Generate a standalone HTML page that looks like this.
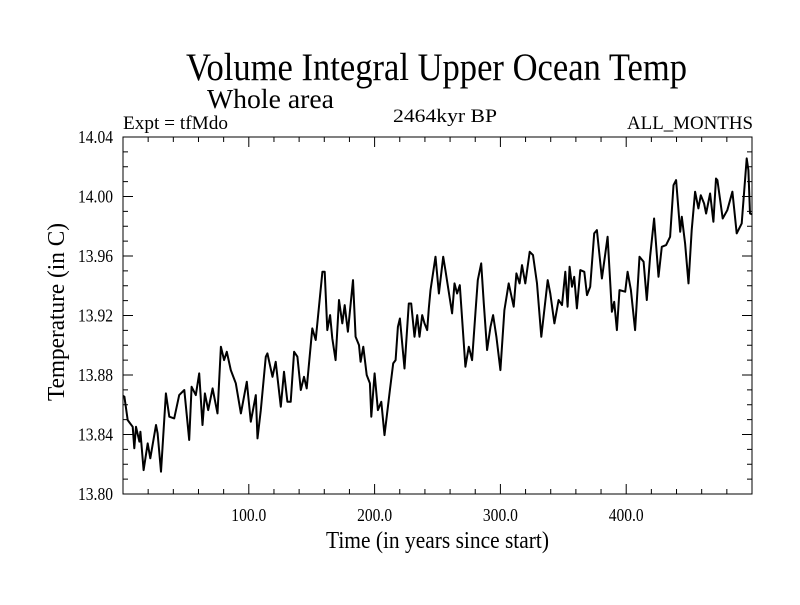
<!DOCTYPE html>
<html><head><meta charset="utf-8"><style>
html,body{margin:0;padding:0;background:#fff}
svg text{font-family:"Liberation Serif",serif;fill:#000}
</style></head><body>
<svg id="chart" width="800" height="600" viewBox="0 0 800 600" xmlns="http://www.w3.org/2000/svg">
<rect x="0" y="0" width="800" height="600" fill="#fff"/>
<text x="186" y="80" font-size="39" textLength="501" lengthAdjust="spacingAndGlyphs">Volume Integral Upper Ocean Temp</text>
<text x="207" y="108" font-size="27" textLength="127" lengthAdjust="spacingAndGlyphs">Whole area</text>
<text x="123" y="129" font-size="19" textLength="105" lengthAdjust="spacingAndGlyphs">Expt = tfMdo</text>
<text x="393" y="122" font-size="19" textLength="104" lengthAdjust="spacingAndGlyphs">2464kyr BP</text>
<text x="627" y="129" font-size="19" textLength="126" lengthAdjust="spacingAndGlyphs">ALL_MONTHS</text>
<text x="326" y="548" font-size="24" textLength="223" lengthAdjust="spacingAndGlyphs">Time (in years since start)</text>
<text transform="translate(64,401) rotate(-90)" font-size="24" textLength="178" lengthAdjust="spacingAndGlyphs">Temperature (in C)</text>
<g id="axes"></g>
<g id="series"></g>
</svg>
<script>
const years=[0,1.1,3.7,7.7,9.0,10.3,13.0,13.8,16.4,19.6,21.7,26.2,27.5,30.2,34.1,36.8,40.7,44.7,48.7,52.6,54.5,57.9,60.6,63.2,65.1,67.7,71.2,75.1,77.8,80.4,82.5,85.7,89.7,93.7,98.4,101.6,105.6,106.9,109.5,113.5,114.8,118.8,121.4,125.4,128.0,130.7,133.3,136.0,138.6,141.3,143.9,146.0,150.5,153.2,158.5,160.3,162.4,164.6,166.4,169.0,171.7,174.3,176.2,178.8,182.8,184.9,187.6,188.9,191.0,193.7,196.3,197.4,200.0,202.6,205.3,207.9,210.1,212.2,214.8,216.7,218.5,220.1,223.8,227.2,229.1,231.7,233.9,235.7,237.8,239.7,241.8,243.1,244.4,248.4,251.1,254.5,256.3,261.6,263.5,265.6,267.7,272.2,274.9,277.5,280.2,282.0,284.7,286.8,289.4,292.1,294.2,296.8,300.0,303.2,306.6,310.6,312.7,315.3,317.2,319.8,323.3,325.9,329.1,332.5,337.6,339.7,342.9,346.3,349.0,351.6,353.4,355.0,356.9,358.7,360.8,363.5,366.7,368.8,371.4,374.6,376.7,380.7,385.2,388.6,390.5,392.6,394.7,399.2,401.1,403.7,407.1,410.6,413.8,416.4,419.0,422.2,425.7,428.3,431.7,434.9,437.6,439.7,442.9,444.2,446.8,449.5,452.1,454.8,457.4,459.3,461.9,463.5,466.7,469.3,471.4,472.5,476.7,480.4,484.4,487.8,491.8,495.8,497.1,498.4,500];
const temps=[13.866,13.8654,13.8497,13.8452,13.8307,13.8452,13.8352,13.8419,13.8161,13.8340,13.8240,13.8464,13.8408,13.8150,13.8676,13.8520,13.8508,13.8665,13.8699,13.8363,13.8721,13.8665,13.8811,13.8464,13.8676,13.8564,13.8710,13.8542,13.8990,13.8900,13.8956,13.8833,13.8744,13.8542,13.8755,13.8486,13.8665,13.8374,13.8564,13.8923,13.8945,13.8788,13.8889,13.8587,13.8822,13.8620,13.8620,13.8956,13.8923,13.8699,13.8788,13.8710,13.9113,13.9035,13.9494,13.9494,13.9102,13.9203,13.9046,13.8900,13.9304,13.9147,13.9270,13.9091,13.9438,13.9057,13.9001,13.8889,13.8990,13.8800,13.8744,13.8520,13.8811,13.8564,13.8620,13.8396,13.8553,13.8699,13.8878,13.8900,13.9124,13.9180,13.8844,13.9281,13.9281,13.9057,13.9203,13.9057,13.9203,13.9147,13.9102,13.9248,13.9371,13.9595,13.9348,13.9595,13.9505,13.9214,13.9416,13.9348,13.9404,13.8856,13.8990,13.8900,13.9225,13.9438,13.9550,13.9281,13.8968,13.9124,13.9203,13.9057,13.8833,13.9236,13.9416,13.9259,13.9483,13.9416,13.9539,13.9416,13.9628,13.9606,13.9416,13.9057,13.9438,13.9348,13.9147,13.9304,13.9270,13.9494,13.9259,13.9528,13.9393,13.9460,13.9248,13.9505,13.9494,13.9337,13.9393,13.9752,13.9774,13.9449,13.9729,13.9225,13.9292,13.9102,13.9371,13.9360,13.9494,13.9371,13.9102,13.9595,13.9561,13.9304,13.9595,13.9852,13.9460,13.9662,13.9673,13.9729,14.0076,14.0110,13.9763,13.9864,13.9684,13.9416,13.9774,14.0032,13.9920,14.0009,13.9953,13.9886,14.0020,13.9830,14.0121,14.0110,13.9852,13.9908,14.0032,13.9752,13.9819,14.0256,14.0177,13.9886,13.988];
const xTickValues=[100,200,300,400];
const xTickLabels=["100.0","200.0","300.0","400.0"];
const yTickValues=[13.80,13.84,13.88,13.92,13.96,14.00,14.04];
const yTickLabels=["13.80","13.84","13.88","13.92","13.96","14.00","14.04"];

const L=123,R=752,T=137,B=494,X0=0,X1=500,Y0=13.80,Y1=14.04;
const sx=v=>L+(v-X0)/(X1-X0)*(R-L);
const sy=v=>B-(v-Y0)/(Y1-Y0)*(B-T);
const NS="http://www.w3.org/2000/svg";
const axes=document.getElementById('axes');
function mk(tag,attrs,parent){const e=document.createElementNS(NS,tag);for(const k in attrs)e.setAttribute(k,attrs[k]);parent.appendChild(e);return e;}
const frame=mk('rect',{x:L,y:T,width:R-L,height:B-T,fill:'none',stroke:'#000','stroke-width':1},axes);


for(let v=20;v<X1;v+=20){
 const len=(v%100===0)?10:5;
 const t1=mk('line',{x1:sx(v),x2:sx(v),y1:B,y2:B-len,stroke:'#000'},axes);
 
 
 const t2=mk('line',{x1:sx(v),x2:sx(v),y1:T,y2:T+len,stroke:'#000'},axes);
 
 
}
for(let i=1;i<24;i++){
 const v=Y0+i*0.01;
 const len=(i%4===0)?10:5;
 const t1=mk('line',{x1:L,x2:L+len,y1:sy(v),y2:sy(v),stroke:'#000'},axes);
 
 
 const t2=mk('line',{x1:R,x2:R-len,y1:sy(v),y2:sy(v),stroke:'#000'},axes);
 
 
}
xTickValues.forEach((v,i)=>{
 const t=mk('text',{x:sx(v)-17.5,y:521,'font-size':18,textLength:35,lengthAdjust:'spacingAndGlyphs'},axes);
 t.textContent=xTickLabels[i];
 
 
});
yTickValues.forEach((v,i)=>{
 const t=mk('text',{x:78,y:sy(v)+6,'font-size':18,textLength:35,lengthAdjust:'spacingAndGlyphs'},axes);
 t.textContent=yTickLabels[i];
 
 
});
const d=years.map((x,i)=>(i?'L':'M')+sx(x).toFixed(1)+','+sy(temps[i]).toFixed(1)).join(' ');
const line=mk('path',{d:d,fill:'none',stroke:'#000','stroke-width':2,'stroke-linejoin':'round'},document.getElementById('series'));


</script>
</body></html>
